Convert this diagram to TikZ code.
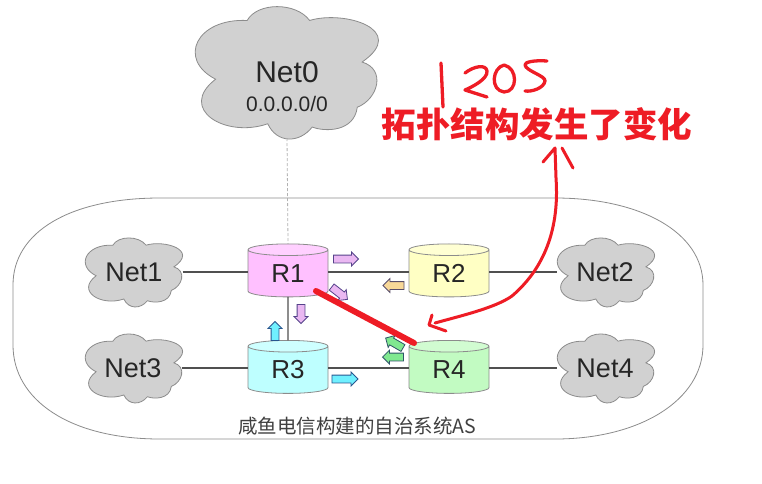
\documentclass[tikz,border=0pt]{standalone}
\usepackage{fontspec}
\setmainfont{Liberation Sans}
\newfontfamily\cjk{Noto Sans CJK SC}
\usetikzlibrary{shapes.geometric,shapes.arrows}
\definecolor{inkred}{HTML}{EE1C25}
\definecolor{edgegray}{HTML}{8C8C8C}
\definecolor{wiregray}{HTML}{505050}
\definecolor{rpink}{HTML}{FFC0FF}
\definecolor{ryellow}{HTML}{FFFFC4}
\definecolor{rcyan}{HTML}{BEFFFF}
\definecolor{rgreen}{HTML}{C2FBC2}
\definecolor{apink}{HTML}{EAB8F2}
\definecolor{ayellow}{HTML}{F8D898}
\definecolor{acyan}{HTML}{70F0FF}
\definecolor{agreen}{HTML}{80E890}
\newcommand{\cloudoutline}{(198,62) .. controls (230,6) and (350,6) .. (392,62)
 .. controls (500,30) and (700,90) .. (555,188)
 .. controls (630,210) and (605,300) .. (540,325)
 .. controls (530,400) and (440,400) .. (400,385)
 .. controls (360,435) and (290,435) .. (262,375)
 .. controls (130,420) and (-20,330) .. (100,240)
 .. controls (-20,180) and (40,55) .. (198,62) -- cycle}
\tikzset{
 x=1pt,y=-1pt,
 cloudfill/.style={fill=#1,draw=edgegray,line width=.8pt},
 cloudtext/.style={font=\fontsize{27}{29}\selectfont,text=black!85,inner sep=0pt,minimum width=97pt,minimum height=68pt,outer sep=0pt},
 router/.style={cylinder,shape border rotate=90,aspect=.35,draw=edgegray,line width=.8pt,minimum width=80pt,minimum height=53pt,inner sep=0pt,outer sep=0pt,cylinder uses custom fill,cylinder body fill=#1,cylinder end fill=#1!75!white,font=\fontsize{26}{28}\selectfont,text=black!85},
 wire/.style={draw=wiregray,line width=1.2pt},
 flow/.style={single arrow,draw=#1!45!black!80!blue,fill=#1,line width=.8pt,minimum height=21pt,minimum width=13pt,single arrow head extend=3pt,single arrow head indent=0pt,single arrow tip angle=90,inner sep=3.5pt,outer sep=0pt},
 ink/.style={draw=inkred,line width=3.3pt,line cap=round,line join=round},
}
\begin{document}
\begin{tikzpicture}
\useasboundingbox (0,0) rectangle (762,483);
\fill[white] (0,0) rectangle (762,483);
% AS boundary
\draw[draw=edgegray,line width=.8pt] (160,198) -- (555,198)
 .. controls (640,198) and (703,232) .. (703,285) -- (703,345)
 .. controls (703,400) and (640,439) .. (555,439) -- (160,439)
 .. controls (70,439) and (13,400) .. (13,345) -- (13,285)
 .. controls (13,232) and (70,198) .. (160,198) -- cycle;
% clouds
\begin{scope}[shift={(183.4,0)},xscale=.322,yscale=.33]
\draw[cloudfill=black!18] \cloudoutline;
\end{scope}
\foreach \ox/\oy in {79/234.5,551/234.5,79/330.5,551/330.5}{
\begin{scope}[shift={(\ox,\oy)},xscale=.171,yscale=.172]
\draw[cloudfill=black!18] \cloudoutline;
\end{scope}}
% nodes
\node[cloudtext,font=\fontsize{30}{32}\selectfont,minimum width=185pt,minimum height=103pt,align=center] (net0) at (287,86.5) {Net0\\[-3pt]{\fontsize{21}{23}\selectfont 0.0.0.0/0}};
\node[cloudtext] (net1) at (134,272) {Net1};
\node[cloudtext] (net2) at (605,272) {Net2};
\node[cloudtext] (net3) at (133,368) {Net3};
\node[cloudtext] (net4) at (605,368) {Net4};
\node[router=rpink] (r1) at (288,273.5) {R1};
\node[router=ryellow] (r2) at (449,273.5) {R2};
\node[router=rcyan] (r3) at (288,370) {R3};
\node[router=rgreen] (r4) at (449,370) {R4};
% connectors
\draw[draw=gray!60,line width=.8pt,densely dashed] (net0.south) -- (r1.north);
\draw[wire] (net1.east) -- (r1.west |- net1.east);
\draw[wire] (r1.east |- net1.east) -- (r2.west |- net1.east);
\draw[wire] (r2.east |- net2.west) -- (net2.west);
\draw[wire] (net3.east) -- (r3.west |- net3.east);
\draw[wire] (r3.east |- net3.east) -- (r4.west |- net3.east);
\draw[wire] (r4.east |- net4.west) -- (net4.west);
\draw[wire] (r1.south) -- (r3.north);
% flows
\node[flow=apink,minimum height=25pt] (f1) at (344,259) {};
\node[flow=ayellow,rotate=180] (f2) at (395.5,285.5) {};
\node[flow=apink,rotate=-38,minimum height=20pt] (f3) at (338,292) {};
\node[flow=apink,rotate=-90,minimum height=19pt] (f4) at (301,312) {};
\node[flow=acyan,rotate=90,minimum height=19pt] (f5) at (275,333) {};
\node[flow=acyan,minimum height=26pt] (f6) at (343,379) {};
\node[flow=agreen,rotate=180] (f7) at (395,357) {};
\node[flow=agreen,rotate=150,minimum height=20pt] (f8) at (396,344) {};
% failed link
\coordinate (cut1) at (316,291);
\coordinate (cut2) at (414,343);
\draw[inkred,line width=6pt,line cap=round] (cut1) -- (cut2);
% texts
\node[font=\cjk\fontsize{19.5}{21}\selectfont,text=black!75,inner sep=0pt] (as) at (357,426) {咸鱼电信构建的自治系统AS};
\node[font=\cjk\bfseries\fontsize{34.5}{36}\selectfont,text=inkred,inner sep=0pt] (title) at (537,124) {拓扑结构发生了变化};
% handwriting
\draw[ink] (441,63) -- (443,107);
\draw[ink] (465,73) .. controls (474,66) and (486,64) .. (487,71) .. controls (488,79) and (472,87) .. (465,90) -- (487,97);
\draw[ink] (504,65) .. controls (492,68) and (490,90) .. (504,92) .. controls (518,92) and (518,68) .. (504,65);
\draw[ink] (547,61) .. controls (535,60) and (524,62) .. (525,65) .. controls (526,71) and (546,76) .. (545,81) .. controls (544,88) and (532,92) .. (525,91);
\coordinate (ha) at (555,148);
\coordinate (hb) at (429,325);
\draw[ink,line width=3pt] (435,323) .. controls (460,316) and (495,308) .. (512,296) .. controls (540,272) and (560,235) .. (556,178) -- (ha) -- (543,162);
\draw[ink,line width=3pt] (562,148) -- (573,168);
\draw[ink,line width=3pt] (432,315) -- (hb) -- (446,331);
\end{tikzpicture}
\end{document}
